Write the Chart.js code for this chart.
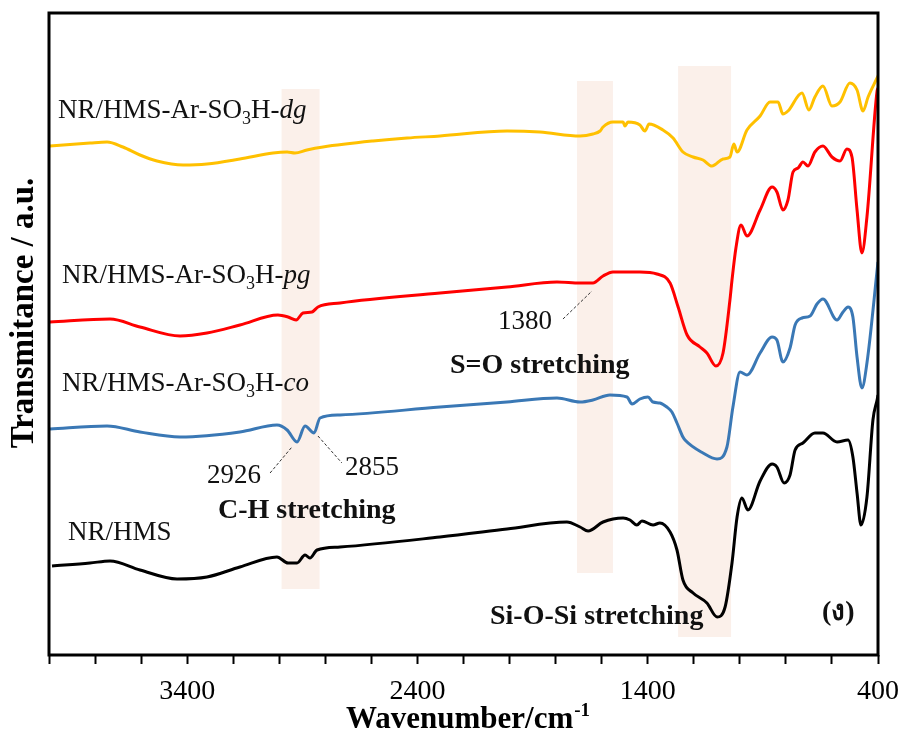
<!DOCTYPE html>
<html>
<head>
<meta charset="utf-8">
<script src="https://cdn.jsdelivr.net/npm/chart.js@4.4.1/dist/chart.umd.min.js"></script>
<style>
  html, body { margin: 0; padding: 0; background: #fff; }
  canvas { display: block; }
</style>
</head>
<body>
<canvas id="ftir" width="904" height="735"></canvas>
<script>
// FTIR spectra, wavenumber (cm-1) vs transmittance (a.u., curves stacked)
const wnDG = [3996, 3822, 3748, 3679, 3605, 3531, 3418, 3314, 3171, 3027, 2966, 2932, 2880, 2810, 2593, 2445, 2302, 2011, 1868, 1694, 1638, 1607, 1594, 1551, 1507, 1499, 1486, 1434, 1412, 1394, 1334, 1290, 1247, 1203, 1160, 1121, 1073, 1043, 1026, 1012, 969, 912, 869, 834, 813, 791, 730, 700, 674, 639, 600, 565, 522, 491, 465, 443, 404, 400];
const trDG = [509, 512, 513, 508, 500, 494, 490, 491, 496, 502, 503, 502, 505, 508, 514, 517, 519, 524, 523, 519, 521, 524, 528, 533, 533, 529, 533, 530, 524, 531, 525, 517, 503, 498, 495, 489, 496, 498, 511, 503, 525, 539, 553, 553, 541, 544, 562, 545, 558, 569, 549, 553, 572, 565, 544, 558, 577, 579];

const wnPG = [3996, 3735, 3605, 3431, 3314, 3171, 3006, 2962, 2927, 2897, 2858, 2832, 2736, 2302, 2011, 1794, 1694, 1638, 1594, 1551, 1434, 1360, 1303, 1268, 1229, 1173, 1143, 1104, 1073, 1043, 1034, 1017, 995, 969, 912, 860, 839, 813, 791, 769, 747, 726, 704, 674, 639, 600, 565, 535, 513, 491, 470, 448, 404, 400];
const trPG = [333, 336, 328, 319, 322, 330, 340, 338, 335, 342, 343, 348, 352, 362, 368, 373, 372, 372, 379, 383, 383, 381, 372, 348, 320, 308, 302, 289, 302, 355, 375, 407, 430, 419, 445, 468, 463, 445, 455, 483, 487, 493, 489, 503, 509, 498, 494, 506, 498, 445, 402, 438, 564, 567];

const wnCO = [3996, 3748, 3605, 3431, 3171, 3010, 2966, 2923, 2888, 2849, 2823, 2736, 2302, 2011, 1794, 1694, 1638, 1564, 1490, 1468, 1434, 1399, 1377, 1347, 1317, 1295, 1273, 1247, 1238, 1160, 1099, 1056, 1030, 999, 969, 912, 860, 839, 813, 782, 760, 730, 695, 665, 639, 578, 552, 530, 509, 491, 470, 448, 400];
const trCO = [226, 229, 223, 218, 223, 230, 225, 213, 229, 222, 237, 240, 248, 253, 257, 253, 255, 260, 258, 251, 256, 258, 253, 252, 248, 243, 232, 218, 215, 202, 196, 208, 248, 283, 280, 302, 318, 315, 293, 307, 330, 337, 339, 351, 356, 335, 343, 348, 338, 298, 267, 292, 393];

const wnHMS = [3987, 3822, 3735, 3605, 3444, 3314, 3171, 3010, 2962, 2923, 2888, 2867, 2836, 2736, 2302, 2011, 1751, 1694, 1659, 1594, 1507, 1477, 1447, 1425, 1377, 1347, 1303, 1273, 1247, 1203, 1143, 1099, 1064, 1034, 1012, 991, 965, 912, 860, 839, 808, 782, 760, 726, 674, 639, 578, 530, 509, 491, 474, 448, 422, 404, 400];
const trHMS = [89, 92, 94, 85, 76, 78, 88, 98, 92, 92, 100, 97, 105, 108, 118, 126, 133, 128, 124, 133, 137, 135, 130, 134, 130, 132, 123, 105, 75, 62, 52, 38, 48, 92, 138, 157, 145, 174, 191, 188, 172, 180, 205, 212, 222, 222, 213, 215, 198, 162, 130, 158, 235, 255, 260];

const sampleNames = ['NR/HMS', 'NR/HMS-Ar-SO3H-co', 'NR/HMS-Ar-SO3H-pg', 'NR/HMS-Ar-SO3H-dg'];
const lineColors = ['#000000', '#3A78B5', '#FF0000', '#FFC000'];
const tickLabels = [3400, 2400, 1400, 400];

// shaded regions: [from cm-1, to cm-1, low, high]
const bands = [[2990, 2825, 66, 566], [1707, 1551, 82, 574], [1268, 1038, 18, 589]];
// leader lines for marked peaks: [cm-1, a.u.] -> [cm-1, a.u.]
const leaders = [[[3040, 182], [2945, 208]], [[2832, 219], [2728, 192]], [[1768, 336], [1642, 364]]];

const serif = '"Liberation Serif", "Times New Roman", serif';

function drawParts(ctx, x, y, parts, size) {
  let cx = x;
  parts.forEach(p => {
    const s = p.sub ? Math.round(size * 0.65) : size;
    ctx.font = (p.italic ? 'italic ' : '') + (p.bold ? 'bold ' : '') + s + 'px ' + serif;
    ctx.fillText(p.t, cx, y + (p.sub ? 6 : 0));
    cx += ctx.measureText(p.t).width;
  });
}

function labelParts(name) {
  const m = name.match(/^(.*SO)3(H-)(\w+)$/);
  if (!m) return [{ t: name }];
  return [{ t: m[1] }, { t: '3', sub: true }, { t: m[2] }, { t: m[3], italic: true }];
}

const overlay = {
  id: 'overlay',
  beforeDatasetsDraw(chart) {
    const { ctx, scales: { x, y } } = chart;
    ctx.save();
    ctx.fillStyle = '#FBF0EA';
    bands.forEach(([a, b, lo, hi]) => {
      const x1 = x.getPixelForValue(a), x2 = x.getPixelForValue(b);
      const y1 = y.getPixelForValue(hi), y2 = y.getPixelForValue(lo);
      ctx.fillRect(x1, y1, x2 - x1, y2 - y1);
    });
    ctx.restore();
  },
  afterDraw(chart) {
    const { ctx, chartArea: ca, scales: { x, y } } = chart;
    ctx.save();
    // frame
    ctx.strokeStyle = '#000';
    ctx.lineWidth = 3;
    ctx.strokeRect(ca.left, ca.top, ca.right - ca.left, ca.bottom - ca.top);

    // leader lines
    ctx.strokeStyle = '#333';
    ctx.lineWidth = 1;
    ctx.setLineDash([3, 2]);
    leaders.forEach(([p, q]) => {
      ctx.beginPath();
      ctx.moveTo(x.getPixelForValue(p[0]), y.getPixelForValue(p[1]));
      ctx.lineTo(x.getPixelForValue(q[0]), y.getPixelForValue(q[1]));
      ctx.stroke();
    });
    ctx.setLineDash([]);

    ctx.fillStyle = '#111';
    ctx.textBaseline = 'alphabetic';
    ctx.textAlign = 'left';
    // sample labels
    drawParts(ctx, 58, 118, labelParts(sampleNames[3]), 27);
    drawParts(ctx, 62, 283, labelParts(sampleNames[2]), 27);
    drawParts(ctx, 62, 391, labelParts(sampleNames[1]), 27);
    drawParts(ctx, 68, 540, labelParts(sampleNames[0]), 27);

    // peak notes
    ctx.font = '27px ' + serif;
    ctx.fillText('2926', 207, 483);
    ctx.fillText('2855', 345, 475);
    ctx.fillText('1380', 498, 329);
    ctx.font = 'bold 28px ' + serif;
    ctx.fillText('C-H stretching', 218, 518);
    ctx.fillText('S=O stretching', 450, 373);
    ctx.fillText('Si-O-Si stretching', 490, 624);
    ctx.fillText('(ง)', 822, 620);

    // axis titles
    ctx.fillStyle = '#000';
    ctx.font = 'bold 31px ' + serif;
    const main = 'Wavenumber/cm';
    const wMain = ctx.measureText(main).width;
    ctx.font = 'bold 19px ' + serif;
    const wSup = ctx.measureText('-1').width;
    const tx = (ca.left + ca.right) / 2 + 4 - (wMain + wSup) / 2;
    ctx.font = 'bold 31px ' + serif;
    ctx.fillText(main, tx, 728);
    ctx.font = 'bold 19px ' + serif;
    ctx.fillText('-1', tx + wMain + 1, 716);

    ctx.translate(24, 313);
    ctx.rotate(-Math.PI / 2);
    ctx.textAlign = 'center';
    ctx.textBaseline = 'middle';
    ctx.font = 'bold 33px ' + serif;
    ctx.fillText('Transmitance / a.u.', 0, 0);
    ctx.restore();
  }
};

const series = [
  [wnHMS, trHMS], [wnCO, trCO], [wnPG, trPG], [wnDG, trDG]
];

new Chart(document.getElementById('ftir'), {
  type: 'line',
  data: {
    datasets: series.map(([wn, tr], i) => ({
      label: sampleNames[i],
      data: wn.map((w, k) => ({ x: w, y: tr[k] })),
      borderColor: lineColors[i],
      borderWidth: 3,
      pointRadius: 0,
      fill: false,
      cubicInterpolationMode: 'monotone'
    }))
  },
  options: {
    responsive: false,
    animation: false,
    devicePixelRatio: 1,
    layout: { padding: { top: 13, right: 26, left: 0, bottom: 0 } },
    plugins: { legend: { display: false }, tooltip: { enabled: false } },
    scales: {
      x: {
        type: 'linear',
        reverse: true,
        min: 400,
        max: 4000,
        afterFit: s => { s.height = 80; s.paddingLeft = 0; s.paddingRight = 0; },
        border: { display: false },
        grid: { drawOnChartArea: false, drawTicks: true, tickLength: 9, tickWidth: 2, tickColor: '#000' },
        ticks: {
          stepSize: 200,
          autoSkip: false,
          maxRotation: 0,
          padding: 11,
          color: '#000',
          font: { family: serif, size: 28 },
          callback: v => tickLabels.includes(v) ? String(v) : ''
        }
      },
      y: {
        min: 0,
        max: 642,
        afterFit: s => { s.width = 49; s.paddingTop = 0; s.paddingBottom = 0; },
        border: { display: false },
        grid: { display: false },
        ticks: { display: false }
      }
    }
  },
  plugins: [overlay]
});
</script>
</body>
</html>
